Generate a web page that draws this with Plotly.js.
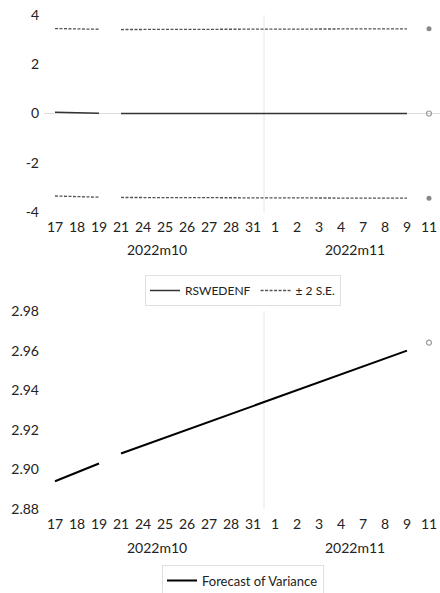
<!DOCTYPE html>
<html><head><meta charset="utf-8">
<script src="https://cdn.plot.ly/plotly-3.0.1.min.js"></script>
<style>html,body{margin:0;padding:0;background:#fff;}#chart{width:440px;height:593px;}</style>
</head><body><div id="chart"></div>
<script>
// ---- data ----
const categories = ['17','18','19','21','24','25','26','27','28','31','1','2','3','4','7','8','9','11'];
const monthOf   = ['2022m10','2022m10','2022m10','2022m10','2022m10','2022m10','2022m10','2022m10','2022m10','2022m10',
                   '2022m11','2022m11','2022m11','2022m11','2022m11','2022m11','2022m11','2022m11'];
const breaksBefore = ['21','11'];   // line is interrupted before these days
const rswedenf = [0.05,0.025,0.01,0.0,0.0,0.0,0.0,0.0,0.0,0.0,0.0,0.0,0.0,0.0,0.0,0.0,0.0,0.0];
const upperSE  = [3.45,3.43,3.42,3.41,3.41,3.42,3.42,3.42,3.42,3.42,3.43,3.43,3.43,3.44,3.44,3.44,3.44,3.44];
const lowerSE  = [-3.35,-3.38,-3.40,-3.41,-3.41,-3.42,-3.42,-3.42,-3.42,-3.43,-3.43,-3.43,-3.43,-3.44,-3.44,-3.44,-3.44,-3.44];
const variance = [2.894,2.8985,2.903,2.908,2.912,2.916,2.920,2.924,2.928,2.932,2.936,2.940,2.944,2.948,2.952,2.956,2.960,2.964];
const yTicksTop = [-4,-2,0,2,4];
const yTickTextTop = ['-4','-2','0','2','4'];
const yTicksBottom = [2.88,2.90,2.92,2.94,2.96,2.98];

// ---- helpers ----
const idx = categories.map((c,i)=>i);
function segments(vals){
  const segs=[]; let cur={x:[],y:[]};
  categories.forEach((c,i)=>{
    if(breaksBefore.includes(c) && cur.x.length){segs.push(cur);cur={x:[],y:[]};}
    cur.x.push(i); cur.y.push(vals[i]);
  });
  if(cur.x.length) segs.push(cur);
  return segs;
}
const traces=[];
function addSeries(vals,name,line,marker,xa,ya,legend,allowLegend){
  let shown=!allowLegend;
  segments(vals).forEach(s=>{
    const single = s.x.length===1;
    traces.push({x:s.x,y:s.y,name:name,xaxis:xa,yaxis:ya,legend:legend,legendgroup:name,
      mode: single?'markers':'lines', line:line, marker:marker,
      showlegend: !single && !shown, hoverinfo:'skip'});
    if(!single) shown=true;
  });
}
const seLine={color:'#555',width:1.3,dash:'3px,1.5px'};
addSeries(rswedenf,'RSWEDENF',{color:'#333',width:1.5},{symbol:'circle-open',size:5,color:'#999',line:{width:1.2}},'x','y','legend',true);
addSeries(upperSE,'± 2 S.E.',seLine,{symbol:'circle',size:5,color:'#888'},'x','y','legend',true);
addSeries(lowerSE,'± 2 S.E.',seLine,{symbol:'circle',size:5,color:'#888'},'x','y','legend',false);
addSeries(variance,'Forecast of Variance',{color:'#000',width:2},{symbol:'circle-open',size:5,color:'#999',line:{width:1.2}},'x2','y2','legend2',true);

// month centre annotations
const monthNames=[...new Set(monthOf)];
const annotations=[];
monthNames.forEach(m=>{
  const ii=idx.filter(i=>monthOf[i]===m);
  const c=(ii[0]+ii[ii.length-1])/2;
  annotations.push({x:c,xref:'x',y:1-250/593,yref:'paper',text:m,showarrow:false,font:{size:14,color:'#222'},yanchor:'middle',xshift:3});
  annotations.push({x:c,xref:'x2',y:1-547/593,yref:'paper',text:m,showarrow:false,font:{size:14,color:'#222'},yanchor:'middle',xshift:3});
});
// month separator
const sepIdx = idx.find(i=>i>0 && monthOf[i]!==monthOf[i-1]) - 0.5;
const shapes=[
  {type:'line',xref:'x',yref:'y domain',x0:sepIdx,x1:sepIdx,y0:0,y1:1,line:{color:'#e6e6e6',width:1},layer:'below'},
  {type:'line',xref:'x2',yref:'y2 domain',x0:sepIdx,x1:sepIdx,y0:0,y1:1,line:{color:'#e6e6e6',width:1},layer:'below'}
];

const xcommon={type:'linear',range:[-0.5,17.5],tickmode:'array',tickvals:idx,ticktext:categories,
  showgrid:false,zeroline:false,showline:false,ticks:'',tickfont:{size:14,color:'#222'},ticklabelstandoff:5,fixedrange:true};
const layout={
  width:440,height:593,margin:{l:44,r:0,t:0,b:0,autoexpand:false},
  paper_bgcolor:'#fff',plot_bgcolor:'#fff',
  font:{family:'Lato, sans-serif',color:'#222'},
  xaxis:Object.assign({},xcommon,{anchor:'y',domain:[0,1]}),
  xaxis2:Object.assign({},xcommon,{anchor:'y2',domain:[0,1]}),
  yaxis:{domain:[1-212/593,1-15/593],range:[-4,4],tickmode:'array',tickvals:yTicksTop,ticktext:yTickTextTop,showgrid:false,zeroline:true,
    zerolinecolor:'#dcdcdc',zerolinewidth:1,showline:false,ticks:'',tickfont:{size:14,color:'#222'},ticklabelstandoff:4},
  yaxis2:{domain:[1-509/593,1-311/593],range:[2.88,2.98],tickmode:'array',tickvals:yTicksBottom,tickformat:'.2f',
    showgrid:false,zeroline:false,showline:false,ticks:'',tickfont:{size:14,color:'#222'},ticklabelstandoff:4},
  legend:{orientation:'h',x:(243-44)/396,xanchor:'center',y:1-275/593,yanchor:'top',bordercolor:'#e0e0e0',borderwidth:1,
    font:{size:12,color:'#222'},bgcolor:'#fff'},
  legend2:{orientation:'h',x:(243-44)/396,xanchor:'center',y:-0.006,yanchor:'bottom',bordercolor:'#e0e0e0',borderwidth:1,
    font:{size:13,color:'#222'},bgcolor:'#fff'},
  annotations:annotations,shapes:shapes,showlegend:true
};
Plotly.newPlot('chart',traces,layout,{displayModeBar:false,staticPlot:true});
</script></body></html>
